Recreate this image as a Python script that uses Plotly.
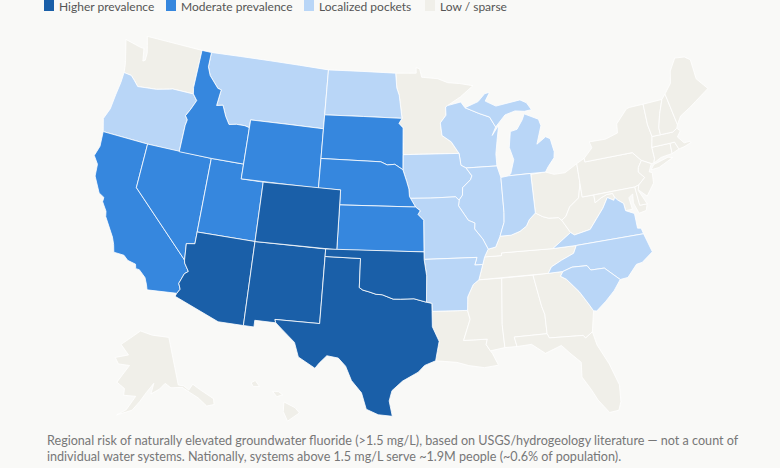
import plotly.graph_objects as go

BG = "#f9f9f7"
high = ["AZ", "NM", "CO", "TX", "OK"]
moderate = ["CA", "NV", "UT", "ID", "WY", "SD", "NE", "KS"]
pockets = ["OR", "MT", "ND", "WI", "MI", "MI2", "IA", "IL", "IN", "MO", "AR", "VA", "NC", "SC"]
low = ["WA", "AK", "HI1", "HI2", "HI3", "MN", "LA", "MS", "AL", "GA", "FL", "TN", "KY", "OH", "WV", "PA", "NY", "NY2", "MD", "DE", "NJ", "CT", "RI", "MA", "VT", "NH", "ME"]

legend_names = ["Higher prevalence", "Moderate prevalence", "Localized pockets", "Low / sparse"]
legend_colors = ["#1a5fa8", "#3687de", "#b9d6f7", "#f0efe9"]
caption = ("Regional risk of naturally elevated groundwater fluoride (>1.5 mg/L), based on USGS/hydrogeology literature — not a count of<br>"
           "individual water systems. Nationally, systems above 1.5 mg/L serve ~1.9M people (~0.6% of population).")

# Hand-estimated approximate state outlines as (lon, lat)
S = {
"WA":[(-124.73,48.38),(-123.1,48.15),(-122.75,48.15),(-122.5,47.3),(-122.3,47.4),(-122.3,47.9),(-122.5,48.4),(-122.76,49),(-117.03,49),(-117.04,46.42),(-116.92,45.99),(-118.98,46),(-119.3,45.93),(-120.5,45.7),(-121.2,45.65),(-122.3,45.55),(-122.8,45.9),(-123.2,46.15),(-123.95,46.2),(-124.05,46.7),(-124.15,47),(-124.4,47.6)],
"OR":[(-124.55,42.84),(-124.21,42),(-120,42),(-117.03,42),(-117.03,43.8),(-116.95,44.2),(-117.2,44.45),(-116.85,44.95),(-116.47,45.6),(-116.92,45.99),(-118.98,46),(-119.3,45.93),(-120.5,45.7),(-121.2,45.65),(-122.3,45.55),(-122.8,45.9),(-123.2,46.15),(-123.95,46.2),(-123.97,45.5),(-124.1,44.6),(-124.2,43.6)],
"CA":[(-124.21,42),(-120,42),(-120,39),(-114.63,35),(-114.57,34.8),(-114.14,34.3),(-114.43,34.1),(-114.72,33.4),(-114.52,33.03),(-114.72,32.72),(-117.12,32.53),(-117.25,32.85),(-117.5,33.3),(-118.1,33.73),(-118.4,33.74),(-118.5,34.03),(-119.2,34.15),(-119.6,34.42),(-120.47,34.45),(-120.65,34.95),(-120.9,35.4),(-121.9,36.6),(-122,36.95),(-122.5,37.5),(-122.5,37.8),(-123,38),(-123.75,39),(-123.85,39.8),(-124.35,40.3),(-124.1,41)],
"NV":[(-120,42),(-114.04,42),(-114.04,36.2),(-114.75,36.1),(-114.63,35),(-120,39)],
"ID":[(-117.03,49),(-116.05,49),(-116.05,48),(-115.7,47.45),(-114.7,46.7),(-114.35,46.65),(-114.5,45.55),(-113.9,45.65),(-113.45,44.95),(-113,44.45),(-112.3,44.55),(-111.5,44.55),(-111.05,44.47),(-111.05,42),(-114.04,42),(-117.03,42),(-117.03,43.8),(-116.95,44.2),(-117.2,44.45),(-116.85,44.95),(-116.47,45.6),(-116.92,45.99),(-117.04,46.42)],
"MT":[(-116.05,49),(-104.05,49),(-104.05,45),(-111.05,45),(-111.05,44.47),(-111.5,44.55),(-112.3,44.55),(-113,44.45),(-113.45,44.95),(-113.9,45.65),(-114.5,45.55),(-114.35,46.65),(-114.7,46.7),(-115.7,47.45),(-116.05,48)],
"WY":[(-111.05,45),(-104.05,45),(-104.05,41),(-111.05,41)],
"UT":[(-114.04,42),(-111.05,42),(-111.05,41),(-109.05,41),(-109.05,37),(-114.04,37)],
"CO":[(-109.05,41),(-102.05,41),(-102.05,37),(-109.05,37)],
"AZ":[(-114.04,37),(-109.05,37),(-109.05,31.33),(-111.07,31.33),(-114.81,32.5),(-114.72,32.72),(-114.52,33.03),(-114.72,33.4),(-114.43,34.1),(-114.14,34.3),(-114.57,34.8),(-114.63,35),(-114.75,36.1),(-114.04,36.2)],
"NM":[(-109.05,37),(-103,37),(-103.04,32),(-106.62,32),(-106.53,31.78),(-108.21,31.78),(-108.21,31.33),(-109.05,31.33)],
"TX":[(-103.04,32),(-103,36.5),(-100,36.5),(-100,34.56),(-99.7,34.4),(-99.2,34.3),(-98.6,34.15),(-98.1,34.13),(-97.2,33.85),(-96.6,33.85),(-95.5,33.88),(-94.48,33.64),(-94.04,33.55),(-94.04,33.02),(-94.04,31.99),(-93.53,31),(-93.7,30.3),(-93.84,29.7),(-94.7,29.4),(-95.2,28.95),(-96.4,28.35),(-97.2,27.7),(-97.4,27),(-97.15,25.96),(-98.2,26.05),(-99.1,26.4),(-99.5,27.5),(-100.3,28.3),(-100.8,29.25),(-101.4,29.77),(-102.3,29.88),(-102.85,29.35),(-103.15,28.98),(-104.5,29.65),(-104.9,30.6),(-106,31.4),(-106.53,31.78),(-106.62,32)],
"OK":[(-103,37),(-94.62,37),(-94.62,36.5),(-94.43,35.4),(-94.48,33.64),(-95.5,33.88),(-96.6,33.85),(-97.2,33.85),(-98.1,34.13),(-98.6,34.15),(-99.2,34.3),(-99.7,34.4),(-100,34.56),(-100,36.5),(-103,36.5)],
"KS":[(-102.05,40),(-95.31,40),(-94.9,39.75),(-95.1,39.5),(-94.61,39.11),(-94.62,37),(-102.05,37)],
"NE":[(-104.05,43),(-98.5,43),(-97.9,42.8),(-97.2,42.85),(-96.45,42.49),(-96.1,41.7),(-95.9,41.2),(-95.85,40.7),(-95.31,40),(-102.05,40),(-102.05,41),(-104.05,41)],
"SD":[(-104.05,45.94),(-96.56,45.94),(-96.85,45.6),(-96.45,45.3),(-96.45,43.5),(-96.45,42.49),(-97.2,42.85),(-97.9,42.8),(-98.5,43),(-104.05,43)],
"ND":[(-104.05,49),(-97.23,49),(-97.1,48),(-96.85,47.5),(-96.56,45.94),(-104.05,45.94)],
"MN":[(-97.23,49),(-95.15,49),(-95.15,49.38),(-94.8,49.3),(-94.6,48.72),(-93,48.6),(-92,48.3),(-90.8,48.2),(-89.5,48),(-90.8,47.3),(-92.1,46.75),(-92.3,46.66),(-92.3,46.1),(-92.87,45.6),(-92.75,44.75),(-91.9,44.3),(-91.22,43.5),(-96.45,43.5),(-96.45,45.3),(-96.85,45.6),(-96.56,45.94),(-96.85,47.5),(-97.1,48)],
"IA":[(-96.45,43.5),(-91.22,43.5),(-91.1,42.7),(-90.64,42.5),(-90.15,41.95),(-90.3,41.7),(-91.05,41.2),(-91.1,40.7),(-91.42,40.38),(-91.73,40.61),(-94,40.58),(-95.77,40.58),(-95.85,40.7),(-95.9,41.2),(-96.1,41.7),(-96.45,42.49)],
"MO":[(-95.77,40.58),(-94,40.58),(-91.73,40.61),(-91.42,40.38),(-91.5,40),(-90.7,39),(-90.15,38.8),(-90.2,38.4),(-89.55,37.7),(-89.15,37),(-89.5,36.5),(-89.7,36),(-90.37,36),(-90.15,36.5),(-94.62,36.5),(-94.62,37),(-94.61,39.11),(-95.1,39.5),(-94.9,39.75),(-95.31,40)],
"AR":[(-94.62,36.5),(-90.15,36.5),(-90.37,36),(-89.7,36),(-90.1,35),(-90.6,34.7),(-91.1,33.9),(-91.17,33),(-94.04,33.02),(-94.04,33.55),(-94.48,33.64),(-94.43,35.4)],
"LA":[(-94.04,33.02),(-91.17,33),(-91,32.4),(-91.6,31),(-89.73,31),(-89.85,30.65),(-89.55,30.2),(-89.4,30),(-89,29.2),(-90.1,29.1),(-91.3,29.3),(-92.2,29.55),(-93.84,29.7),(-93.7,30.3),(-93.53,31),(-94.04,31.99)],
"MS":[(-91.17,33),(-91.1,33.9),(-90.6,34.7),(-90.1,35),(-88.2,35),(-88.47,31.9),(-88.4,30.35),(-89.55,30.2),(-89.85,30.65),(-89.73,31),(-91.6,31),(-91,32.4)],
"AL":[(-88.2,35),(-85.6,35),(-85.18,32.87),(-85,32.3),(-85,31),(-87.6,31),(-87.45,30.35),(-88.4,30.35),(-88.47,31.9)],
"GA":[(-85.6,35),(-83.1,35),(-83.35,34.7),(-82.9,34.45),(-82,33.5),(-81.4,32.6),(-81.1,32.1),(-81.45,30.72),(-82.05,30.37),(-82.2,30.57),(-84.86,30.7),(-85,31),(-85,32.3),(-85.18,32.87)],
"FL":[(-87.6,31),(-85,31),(-84.86,30.7),(-82.2,30.57),(-82.05,30.37),(-81.45,30.72),(-81.25,29.8),(-80.55,28.4),(-80.05,26.9),(-80.15,25.75),(-80.4,25.2),(-81.1,25.15),(-81.8,26.1),(-82.2,26.9),(-82.75,27.8),(-82.65,28.8),(-83.4,29.5),(-84,30.1),(-85.3,29.7),(-86.3,30.4),(-87.45,30.35)],
"SC":[(-83.1,35),(-82.3,35.2),(-81.05,35.15),(-80.8,34.82),(-79.67,34.8),(-78.55,33.86),(-79.2,33.2),(-80,32.6),(-80.85,32.05),(-81.1,32.1),(-81.4,32.6),(-82,33.5),(-82.9,34.45),(-83.35,34.7)],
"NC":[(-84.32,35),(-84,35.4),(-83.1,35.75),(-82,36.1),(-81.68,36.59),(-75.9,36.55),(-75.5,35.25),(-76.5,34.7),(-77,34.65),(-77.9,33.9),(-78.55,33.86),(-79.67,34.8),(-80.8,34.82),(-81.05,35.15),(-82.3,35.2),(-83.1,35)],
"TN":[(-90.1,35),(-89.7,36),(-89.5,36.5),(-88.07,36.5),(-88.05,36.68),(-83.68,36.6),(-81.68,36.59),(-82,36.1),(-83.1,35.75),(-84,35.4),(-84.32,35)],
"KY":[(-89.5,36.5),(-89.15,37),(-88.5,37.1),(-88.05,37.8),(-87.1,37.8),(-86.3,38),(-85.7,38.3),(-85.4,38.7),(-84.8,39.1),(-84.2,38.8),(-83.7,38.65),(-82.85,38.6),(-82.6,38.4),(-82,37.5),(-83.68,36.6),(-88.05,36.68),(-88.07,36.5)],
"VA":[(-83.68,36.6),(-81.68,36.59),(-75.9,36.55),(-76,36.95),(-76.3,37),(-76.3,38),(-77,38.3),(-77.05,38.8),(-77.5,39.1),(-77.72,39.32),(-77.83,39.13),(-78.35,39.4),(-78.9,38.75),(-79.3,38.4),(-80.3,37.5),(-81.7,37.3),(-82,37.5)],
"WV":[(-82.6,38.4),(-82.2,38.6),(-81.75,39.2),(-80.85,39.7),(-80.52,40.64),(-80.52,39.72),(-79.48,39.72),(-79.48,39.2),(-78.9,39.45),(-78.35,39.6),(-77.83,39.6),(-77.72,39.32),(-77.83,39.13),(-78.35,39.4),(-78.9,38.75),(-79.3,38.4),(-80.3,37.5),(-81.7,37.3),(-82,37.5)],
"MD":[(-79.48,39.72),(-75.79,39.72),(-75.7,38.46),(-75.05,38.45),(-75.25,38.03),(-75.9,37.95),(-76.2,38.7),(-76.1,39.3),(-76.5,39.1),(-76.4,38.3),(-77,38.3),(-77.05,38.8),(-77.5,39.1),(-77.72,39.32),(-77.83,39.6),(-78.35,39.6),(-78.9,39.45),(-79.48,39.2)],
"DE":[(-75.79,39.72),(-75.4,39.8),(-75.55,39.45),(-75.05,38.45),(-75.7,38.46)],
"PA":[(-80.52,41.98),(-79.76,42.25),(-79.76,42),(-75.35,42),(-74.7,41.36),(-75.1,40.95),(-75.2,40.65),(-74.75,40.2),(-75.4,39.8),(-75.79,39.72),(-80.52,39.72)],
"NJ":[(-74.7,41.36),(-73.9,41),(-74.25,40.5),(-74,40.4),(-74.1,39.7),(-74.9,38.95),(-75.55,39.5),(-75.4,39.8),(-74.75,40.2),(-75.2,40.65),(-75.1,40.95)],
"NY":[(-79.76,42.25),(-78.9,42.85),(-79.05,43.27),(-77.5,43.25),(-76.3,43.5),(-76.2,44.1),(-75,44.95),(-74.7,45),(-73.35,45),(-73.4,43.6),(-73.25,42.75),(-73.5,42.05),(-73.5,41.3),(-73.65,41),(-73.9,41),(-74.7,41.36),(-75.35,42),(-79.76,42)],
"NY2":[(-74.03,40.6),(-73.7,40.9),(-72.3,41.15),(-71.9,41.05),(-73.3,40.63)],
"CT":[(-73.5,42.05),(-71.8,42.02),(-71.85,41.32),(-72.9,41.25),(-73.65,41),(-73.5,41.3)],
"RI":[(-71.8,42.02),(-71.38,42.02),(-71.15,41.5),(-71.85,41.32)],
"MA":[(-73.5,42.05),(-73.25,42.75),(-72.46,42.73),(-71.3,42.7),(-70.85,42.87),(-70.6,42.65),(-71,42.3),(-70.55,41.8),(-70,41.8),(-69.95,41.7),(-70.65,41.55),(-71.15,41.5),(-71.38,42.02),(-71.8,42.02)],
"VT":[(-73.35,45),(-71.5,45),(-72.05,44.1),(-72.45,43.2),(-72.46,42.73),(-73.25,42.75),(-73.4,43.6)],
"NH":[(-71.5,45),(-71.08,45.3),(-70.7,43.1),(-70.85,42.87),(-71.3,42.7),(-72.46,42.73),(-72.45,43.2),(-72.05,44.1)],
"ME":[(-71.08,45.3),(-70.3,45.9),(-70,46.7),(-69.23,47.46),(-68.3,47.35),(-67.8,47.05),(-67.8,45.7),(-67,44.85),(-68.5,44.25),(-69.1,44),(-70.2,43.6),(-70.7,43.1)],
"MI":[(-86.8,41.76),(-84.8,41.76),(-83.45,41.73),(-83.15,42.05),(-82.5,42.6),(-82.4,43),(-82.6,43.9),(-83,44.07),(-83.9,43.65),(-83.3,44.85),(-83.45,45.3),(-84.75,45.78),(-85,45.4),(-85.6,44.8),(-86.25,44.7),(-86.5,43.65),(-86.2,42.8),(-86.6,41.9)],
"MI2":[(-90.42,46.55),(-89.1,46.9),(-88.4,47.4),(-87.9,47.47),(-88.4,46.9),(-87.4,46.5),(-85,46.75),(-84.4,46.5),(-84,46),(-84.7,45.95),(-85.6,46.05),(-86.6,45.85),(-87.6,45.1),(-88.1,45.8),(-89.1,46.1)],
"WI":[(-92.1,46.75),(-90.8,46.95),(-90.42,46.55),(-89.1,46.1),(-88.1,45.8),(-87.6,45.1),(-88,44.55),(-87.3,45.2),(-87.55,44.3),(-87.8,43.3),(-87.8,42.49),(-90.64,42.5),(-91.1,42.7),(-91.22,43.5),(-91.9,44.3),(-92.75,44.75),(-92.87,45.6),(-92.3,46.1),(-92.3,46.66)],
"IL":[(-90.64,42.5),(-87.8,42.49),(-87.53,41.7),(-87.53,39.35),(-87.6,38.7),(-88.05,37.8),(-88.5,37.1),(-89.15,37),(-89.55,37.7),(-90.2,38.4),(-90.15,38.8),(-90.7,39),(-91.5,40),(-91.42,40.38),(-91.1,40.7),(-91.05,41.2),(-90.3,41.7),(-90.15,41.95)],
"IN":[(-87.53,41.7),(-86.8,41.76),(-84.8,41.76),(-84.8,39.1),(-85.4,38.7),(-85.7,38.3),(-86.3,38),(-87.1,37.8),(-88.05,37.8),(-87.6,38.7),(-87.53,39.35)],
"OH":[(-84.8,41.7),(-83.45,41.73),(-82.7,41.5),(-81.7,41.5),(-80.52,41.98),(-80.52,40.64),(-80.85,39.7),(-81.75,39.2),(-82.2,38.6),(-82.6,38.4),(-82.85,38.6),(-83.7,38.65),(-84.2,38.8),(-84.8,39.1)],
"AK":[(-141,69.65),(-141,60.3),(-139,59.9),(-137.5,58.9),(-135.5,59.8),(-133.5,58.4),(-130,55.9),(-130.5,54.8),(-133,55),(-135,57),(-137,58.2),(-139.7,59.7),(-144,60),(-146,61),(-148.5,60),(-151.8,59.2),(-150.5,61.2),(-153.5,59.5),(-156,57.7),(-158.5,56),(-163.5,54.8),(-160.5,56),(-157.5,58.7),(-162,58.7),(-162,60),(-165.3,61),(-163,63),(-161,64.5),(-166,64.5),(-168,65.6),(-162,66.5),(-166.5,68.3),(-163,69.5),(-156.7,71.35),(-150,70.5)],
"HI1":[(-155.9,20.25),(-155.1,19.85),(-154.8,19.5),(-155.65,18.95),(-155.95,19.6)],
"HI2":[(-156.7,20.95),(-156.3,20.95),(-156,20.75),(-156.4,20.6)],
"HI3":[(-158.25,21.55),(-157.95,21.7),(-157.65,21.3),(-158.1,21.3)],
}

def clockwise(pts):
    area = sum(a[0]*b[1]-b[0]*a[1] for a, b in zip(pts, pts[1:]+pts[:1]))
    return pts if area < 0 else pts[::-1]

fig = go.Figure()
for states, color in [(low, legend_colors[3]), (pockets, legend_colors[2]), (moderate, legend_colors[1]), (high, legend_colors[0])]:
    for st in states:
        ring = clockwise(S[st])
        pts = ring + [ring[0]]
        fig.add_trace(go.Scattergeo(lon=[p[0] for p in pts], lat=[p[1] for p in pts], mode="lines",
                                    fill="toself", fillcolor=color, line=dict(color="white", width=0.8),
                                    name=st, showlegend=False, hoverinfo="name"))

swatch_x = [44, 166, 304, 425]
shapes, annos = [], []
for x, name, color in zip(swatch_x, legend_names, legend_colors):
    shapes.append(dict(type="rect", xref="paper", yref="paper", x0=x/780, x1=(x+10)/780, y0=1-11/468, y1=1,
                       fillcolor=color, line_width=0))
    annos.append(dict(xref="paper", yref="paper", x=(x+13)/780, y=1-7/468, xanchor="left", yanchor="middle",
                      text=name, showarrow=False, font=dict(family="Lato", size=12, color="#555555")))
annos.append(dict(xref="paper", yref="paper", x=45/780, y=1-448/468, xanchor="left", yanchor="middle", align="left",
                  text=caption, showarrow=False, font=dict(family="Lato", size=12.6, color="#777777")))

fig.update_layout(width=780, height=468, paper_bgcolor=BG, margin=dict(l=0, r=0, t=0, b=0),
    shapes=shapes, annotations=annos, showlegend=False,
    geo=dict(projection=dict(type="albers usa", scale=1.034), scope="usa", bgcolor=BG, domain=dict(x=[0.034, 0.994], y=[0.056, 0.976]),
             showland=False, showlakes=False, showcountries=False, showsubunits=False, showcoastlines=False,
             showframe=False, showocean=False, showrivers=False))
fig.write_html("out.html", config=dict(displayModeBar=False),
               post_script="document.body.style.margin='0';document.body.style.background='#f9f9f7';")
